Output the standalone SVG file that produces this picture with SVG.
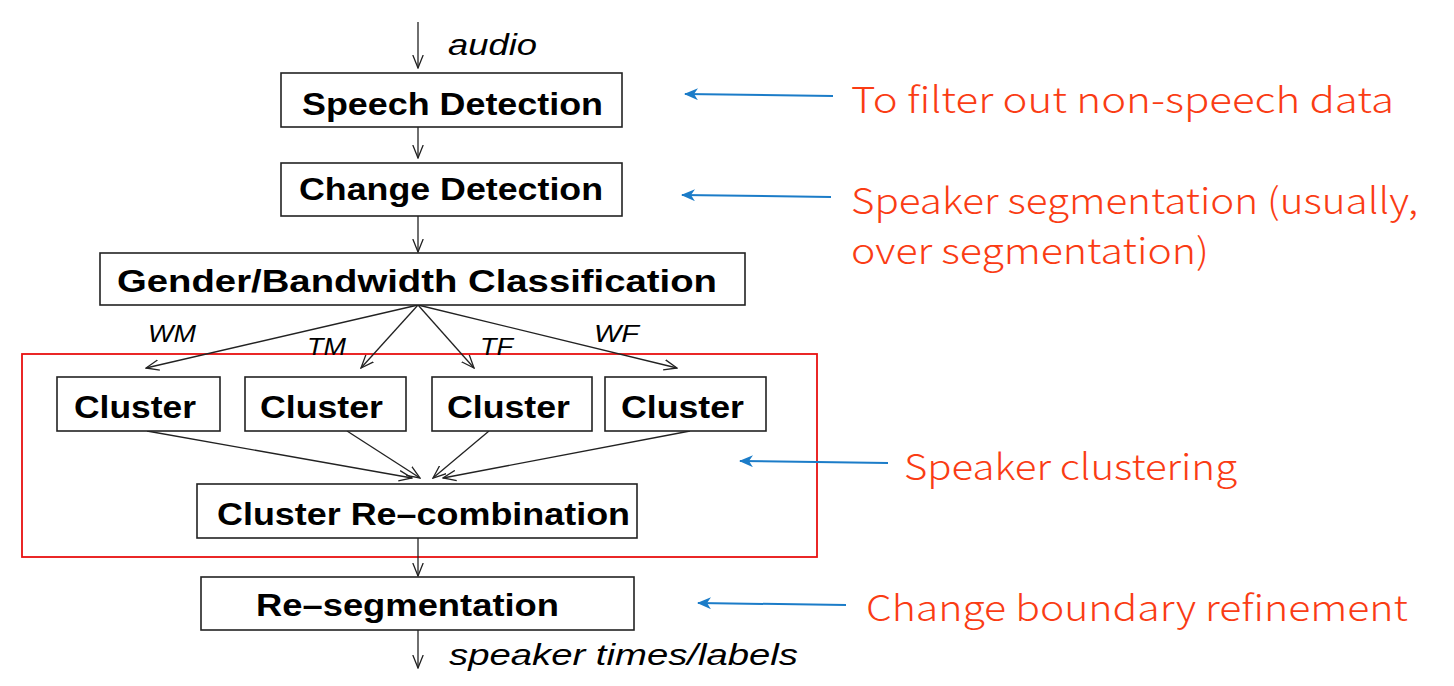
<svg xmlns="http://www.w3.org/2000/svg" width="1454" height="686" viewBox="0 0 1454 686">
<defs>
<marker id="v" viewBox="0 0 14 12" refX="13" refY="6" markerWidth="14" markerHeight="12" markerUnits="userSpaceOnUse" orient="auto">
<polyline points="0,0.8 13,6 0,11.2" fill="none" stroke="#222" stroke-width="1.3"/>
</marker>
<marker id="b" viewBox="0 0 14 12" refX="13" refY="6" markerWidth="14" markerHeight="12" markerUnits="userSpaceOnUse" orient="auto">
<polygon points="0,6 14,0 10,6 14,12" fill="#1B7CC8" transform="rotate(180 7 6)"/>
</marker>
</defs>
<style>
.box{fill:#fff;stroke:#222;stroke-width:1.6}
.t{font-family:"Liberation Sans",Arial,sans-serif;font-weight:bold;font-size:32px;fill:#000}
.i{font-family:"Liberation Sans",Arial,sans-serif;font-style:italic;font-size:30px;fill:#000}
.s{font-family:"Liberation Sans",Arial,sans-serif;font-style:italic;font-size:23px;fill:#000}
.c{fill:none;stroke:#222;stroke-width:1.3}
.bl{fill:none;stroke:#1B7CC8;stroke-width:2}
.r{font-family:"Noto Sans CJK SC","Noto Sans",sans-serif;font-weight:300;font-size:36px;fill:#FA3C14}
</style>
<rect x="22" y="354" width="795" height="203" fill="none" stroke="#E81010" stroke-width="1.8"/>
<g id="connectors">
<line class="c" x1="418" y1="22" x2="418" y2="68" marker-end="url(#v)"/>
<line class="c" x1="418" y1="127" x2="418" y2="158" marker-end="url(#v)"/>
<line class="c" x1="418" y1="216" x2="418" y2="252" marker-end="url(#v)"/>
<line class="c" x1="418" y1="305" x2="146" y2="368" marker-end="url(#v)"/>
<line class="c" x1="418" y1="305" x2="361" y2="368" marker-end="url(#v)"/>
<line class="c" x1="418" y1="305" x2="474" y2="368" marker-end="url(#v)"/>
<line class="c" x1="418" y1="305" x2="677" y2="368" marker-end="url(#v)"/>
<line class="c" x1="147" y1="431" x2="412" y2="478" marker-end="url(#v)"/>
<line class="c" x1="347" y1="431" x2="420" y2="478" marker-end="url(#v)"/>
<line class="c" x1="489" y1="431" x2="433" y2="478" marker-end="url(#v)"/>
<line class="c" x1="690" y1="431" x2="443" y2="478" marker-end="url(#v)"/>
<line class="c" x1="418" y1="538" x2="418" y2="576" marker-end="url(#v)"/>
<line class="c" x1="418" y1="630" x2="418" y2="668" marker-end="url(#v)"/>
<line class="bl" x1="833" y1="96" x2="685" y2="94" marker-end="url(#b)"/>
<line class="bl" x1="831" y1="197" x2="682" y2="195" marker-end="url(#b)"/>
<line class="bl" x1="888" y1="463" x2="740" y2="461" marker-end="url(#b)"/>
<line class="bl" x1="846" y1="605" x2="698" y2="603" marker-end="url(#b)"/>
</g>
<g id="labels">
<text class="i" x="448" y="55" textLength="89" lengthAdjust="spacingAndGlyphs">audio</text>
<text class="s" x="148" y="342" textLength="48" lengthAdjust="spacingAndGlyphs">WM</text>
<text class="s" x="307" y="355" textLength="39" lengthAdjust="spacingAndGlyphs">TM</text>
<text class="s" x="480" y="355" textLength="33" lengthAdjust="spacingAndGlyphs">TF</text>
<text class="s" x="594" y="342" textLength="45" lengthAdjust="spacingAndGlyphs">WF</text>
<text class="i" x="449" y="665" textLength="349" lengthAdjust="spacingAndGlyphs">speaker times/labels</text>
</g>
<g id="speech-detection">
<rect class="box" x="281" y="73" width="341" height="54"/>
<text class="t" x="302" y="115" textLength="301" lengthAdjust="spacingAndGlyphs">Speech Detection</text>
</g>
<g id="change-detection">
<rect class="box" x="281" y="163" width="341" height="53"/>
<text class="t" x="299" y="200" textLength="304" lengthAdjust="spacingAndGlyphs">Change Detection</text>
</g>
<g id="gender-bandwidth">
<rect class="box" x="100" y="253" width="645" height="52"/>
<text class="t" x="117" y="292" textLength="600" lengthAdjust="spacingAndGlyphs">Gender/Bandwidth Classification</text>
</g>
<g id="cluster1">
<rect class="box" x="57" y="377" width="163" height="54"/>
<text class="t" x="74" y="418" textLength="122" lengthAdjust="spacingAndGlyphs">Cluster</text>
</g>
<g id="cluster2">
<rect class="box" x="245" y="377" width="161" height="54"/>
<text class="t" x="260" y="418" textLength="123" lengthAdjust="spacingAndGlyphs">Cluster</text>
</g>
<g id="cluster3">
<rect class="box" x="432" y="377" width="160" height="54"/>
<text class="t" x="447" y="418" textLength="123" lengthAdjust="spacingAndGlyphs">Cluster</text>
</g>
<g id="cluster4">
<rect class="box" x="605" y="377" width="161" height="54"/>
<text class="t" x="621" y="418" textLength="123" lengthAdjust="spacingAndGlyphs">Cluster</text>
</g>
<g id="cluster-recombination">
<rect class="box" x="197" y="484" width="440" height="54"/>
<text class="t" x="217" y="525" textLength="413" lengthAdjust="spacingAndGlyphs">Cluster Re–combination</text>
</g>
<g id="re-segmentation">
<rect class="box" x="201" y="577" width="433" height="53"/>
<text class="t" x="256" y="616" textLength="303" lengthAdjust="spacingAndGlyphs">Re–segmentation</text>
</g>
<g id="annotations">
<text class="r" x="851" y="113" textLength="543" lengthAdjust="spacingAndGlyphs">To filter out non-speech data</text>
<text class="r" x="851" y="214" textLength="567" lengthAdjust="spacingAndGlyphs">Speaker segmentation (usually,</text>
<text class="r" x="851" y="264" textLength="358" lengthAdjust="spacingAndGlyphs">over segmentation)</text>
<text class="r" x="904" y="480" textLength="333" lengthAdjust="spacingAndGlyphs">Speaker clustering</text>
<text class="r" x="866" y="621" textLength="542" lengthAdjust="spacingAndGlyphs">Change boundary refinement</text>
</g>
</svg>
